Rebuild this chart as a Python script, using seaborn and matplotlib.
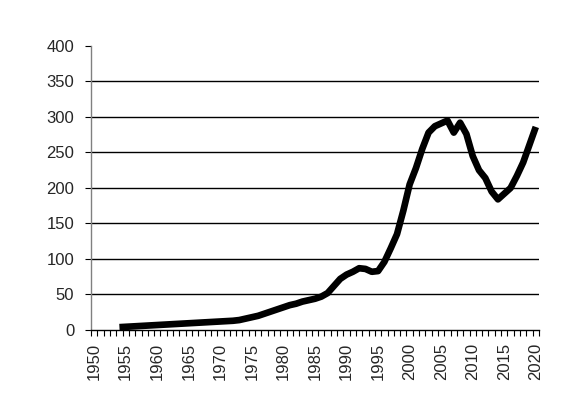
import numpy as np
import pandas as pd
import matplotlib
matplotlib.use("Agg")
import matplotlib.pyplot as plt
import seaborn as sns

# data
years = list(range(1954, 2021))
values = [4, 4.5, 5, 5.5, 6, 6.5, 7, 7.5, 8, 8.5,
          9, 9.5, 10, 10.5, 11, 11.5, 12, 12.5, 13, 14,
          16, 18, 20, 23, 26, 29, 32, 35, 37, 40,
          42, 44, 47, 52, 62, 72, 78, 82, 87, 86,
          82, 83, 96, 115, 135, 168, 205, 228, 255, 278,
          287, 291, 295, 278, 292, 276, 245, 225, 214, 195,
          184, 192, 200, 217, 236, 261, 286]
x_labels = list(range(1950, 2021, 5))
y_ticks = list(range(0, 401, 50))

df = pd.DataFrame({"year": years, "value": values})

sns.set_style("white")
plt.rcParams["font.family"] = ["Liberation Sans", "DejaVu Sans"]

fig = plt.figure(figsize=(5.62, 4.2), dpi=100)
ax = fig.add_axes([0.162, 0.2143, 0.797, 0.6762])

sns.lineplot(data=df, x="year", y="value", ax=ax, color="black",
             linewidth=4.8, solid_joinstyle="round", solid_capstyle="butt")

ax.set_xlim(1949.5, 2020.5)
ax.set_ylim(0, 400)
ax.set_xlabel("")
ax.set_ylabel("")

# x axis: labels every 5 years, small ticks between every year
ax.set_xticks(x_labels)
ax.set_xticklabels([str(y) for y in x_labels], rotation=90, fontsize=12)
ax.set_xticks(np.arange(1949.5, 2021, 1), minor=True)
ax.tick_params(axis="x", which="major", length=0, pad=9)
ax.tick_params(axis="x", which="minor", length=4, width=0.8,
               direction="out", color="black", bottom=True)

ax.set_yticks(y_ticks)
ax.set_yticklabels([str(v) for v in y_ticks], fontsize=12)
ax.tick_params(axis="y", length=4, width=0.8, direction="out",
               color="black", left=True, pad=8)

# horizontal grid lines, none at the top
for v in y_ticks[1:-1]:
    ax.axhline(v, color="black", linewidth=1, zorder=0)

for side in ["top", "right"]:
    ax.spines[side].set_visible(False)
ax.spines["left"].set_color("#808080")
ax.spines["left"].set_linewidth(1)
ax.spines["bottom"].set_color("black")
ax.spines["bottom"].set_linewidth(1)

fig.savefig("out.png", dpi=100)
